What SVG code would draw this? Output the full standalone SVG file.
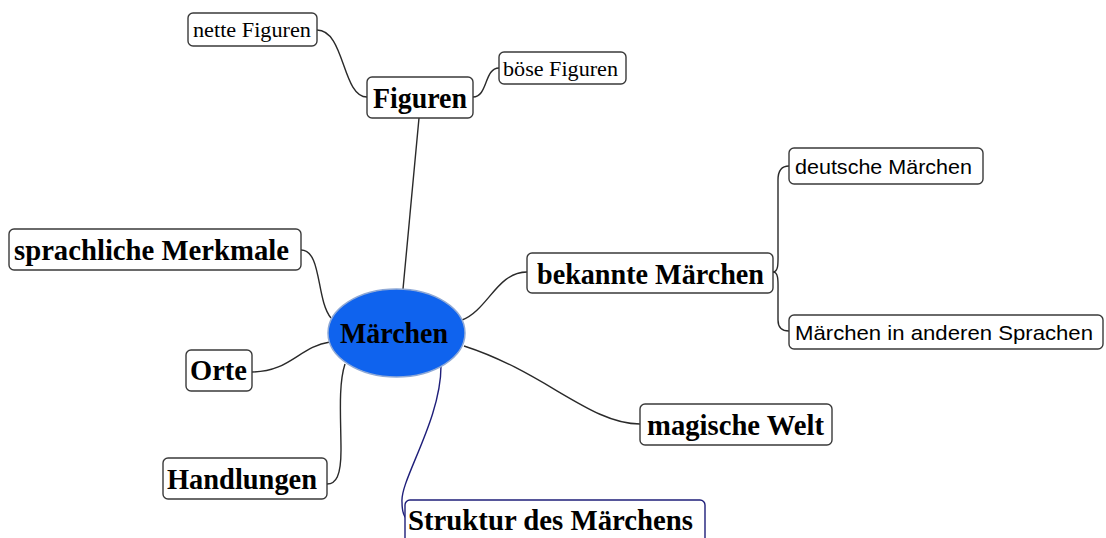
<svg xmlns="http://www.w3.org/2000/svg" width="1106" height="538" viewBox="0 0 1106 538">
<style>
.box{fill:#fff;stroke:#3a3a3a;stroke-width:1.4}
.tb{font-family:'Liberation Serif','Times New Roman',serif;font-weight:bold;font-size:30px;fill:#000}
.tr{font-family:'Liberation Serif','Times New Roman',serif;font-weight:400;font-size:22px;fill:#000}
.ts{font-family:'Liberation Sans',Arial,sans-serif;font-size:21px;fill:#000}
.c{fill:none;stroke:#2a2a2a;stroke-width:1.4}
</style>
<rect width="1106" height="538" fill="#fff"/>
<g id="connectors">
<path class="c" d="M317,30 C345,30 342,97 367,97"/>
<path class="c" d="M473,97 C488,97 484,68 499,68"/>
<path class="c" d="M403,289 L419,118"/>
<path class="c" d="M301,250 C322,250 316,300 331,318"/>
<path class="c" d="M252,372 C290,372 300,346 330,342"/>
<path class="c" d="M345,364 C338,385 341,420 341,450 C341,476 336,484 327,484"/>
<path d="M441,366 C441,420 400,480 402,502 C402,511 403,515 406,518" fill="none" stroke="#1f1f7a" stroke-width="1.4"/>
<path class="c" d="M462,320 C488,310 497,272 527,272"/>
<path class="c" d="M464,346 C545,372 590,424 640,424"/>
<path class="c" d="M773,272 C779,272 778,262 778,250 L778,180 C778,171 781,166 789,166"/>
<path class="c" d="M773,272 C779,272 778,282 778,294 L778,320 C778,327 781,331 789,331"/>
</g>
<g id="maerchen">
<ellipse cx="396.5" cy="333" rx="68.5" ry="44" fill="#0f63ee" stroke="#8fa9d6" stroke-width="1.5"/>
<text class="tb" x="340" y="343" textLength="108" lengthAdjust="spacingAndGlyphs" fill="#0a0a1e">Märchen</text>
</g>
<g id="figuren">
<rect class="box" x="367" y="77" width="106" height="41" rx="5"/>
<text class="tb" x="373" y="108" textLength="94" lengthAdjust="spacingAndGlyphs">Figuren</text>
</g>
<g id="nette-figuren">
<rect class="box" x="188" y="13" width="129" height="33" rx="5"/>
<text class="tr" x="193" y="37" textLength="118" lengthAdjust="spacingAndGlyphs">nette Figuren</text>
</g>
<g id="boese-figuren">
<rect class="box" x="499" y="52" width="127" height="32" rx="5"/>
<text class="tr" x="503" y="76" textLength="115" lengthAdjust="spacingAndGlyphs">böse Figuren</text>
</g>
<g id="sprachliche-merkmale">
<rect class="box" x="9" y="229" width="292" height="41" rx="5"/>
<text class="tb" x="14" y="260" textLength="275" lengthAdjust="spacingAndGlyphs">sprachliche Merkmale</text>
</g>
<g id="orte">
<rect class="box" x="186" y="350" width="66" height="41" rx="5"/>
<text class="tb" x="190" y="380" textLength="57" lengthAdjust="spacingAndGlyphs">Orte</text>
</g>
<g id="handlungen">
<rect class="box" x="163" y="458" width="164" height="41" rx="5"/>
<text class="tb" x="167" y="489" textLength="150" lengthAdjust="spacingAndGlyphs">Handlungen</text>
</g>
<g id="struktur">
<rect x="405" y="500" width="300" height="50" rx="5" fill="#fff" stroke="#1f1f7a" stroke-width="1.4"/>
<text class="tb" x="408" y="530" textLength="285" lengthAdjust="spacingAndGlyphs">Struktur des Märchens</text>
</g>
<g id="magische-welt">
<rect class="box" x="640" y="404" width="192" height="41" rx="5"/>
<text class="tb" x="647" y="435" textLength="177" lengthAdjust="spacingAndGlyphs">magische Welt</text>
</g>
<g id="bekannte-maerchen">
<rect class="box" x="527" y="253" width="246" height="40" rx="5"/>
<text class="tb" x="537" y="284" textLength="227" lengthAdjust="spacingAndGlyphs">bekannte Märchen</text>
</g>
<g id="deutsche-maerchen">
<rect class="box" x="789" y="148" width="194" height="36" rx="5"/>
<text class="ts" x="795" y="174" textLength="177" lengthAdjust="spacingAndGlyphs">deutsche Märchen</text>
</g>
<g id="andere-sprachen">
<rect class="box" x="789" y="315" width="314" height="34" rx="5"/>
<text class="ts" x="795" y="340" textLength="298" lengthAdjust="spacingAndGlyphs">Märchen in anderen Sprachen</text>
</g>
</svg>
